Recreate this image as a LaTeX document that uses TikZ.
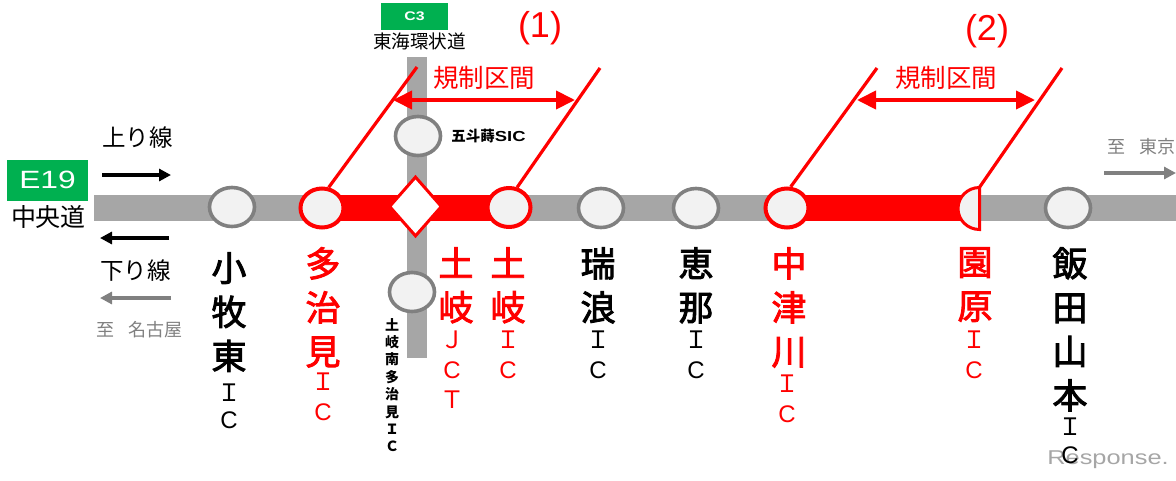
\documentclass[tikz,border=0pt]{standalone}
\usepackage{fontspec}
\setmainfont{Noto Sans CJK JP}
\setsansfont{Liberation Sans}
\newfontfamily\widefont[FakeStretch=1.27]{Liberation Sans}
\newfontfamily\heavyjp[FakeBold=2.5]{Noto Sans CJK JP}
\newfontfamily\latinic{Liberation Sans}
\usetikzlibrary{arrows.meta,shapes.geometric}
\definecolor{rd}{HTML}{FF0000}
\definecolor{rdgray}{HTML}{A6A6A6}
\definecolor{icgray}{HTML}{808080}
\definecolor{icfill}{HTML}{F2F2F2}
\definecolor{grn}{HTML}{00B050}
\newcommand{\cI}{Ｉ}
\newcommand{\cC}{{\latinic C}}
\tikzset{
 road/.style={fill=rdgray,draw=none},
 redroad/.style={fill=rd,draw=none},
 ic/.style={ellipse,draw=icgray,line width=3.6pt,fill=icfill,minimum width=45pt,minimum height=39pt,inner sep=0pt},
 icred/.style={ic,draw=rd,line width=4pt,minimum width=43pt,minimum height=39pt},
 jct/.style={diamond,draw=rd,line width=3pt,fill=white,minimum width=53pt,minimum height=60pt,inner sep=0pt},
 bar/.style={draw=rd,line width=3.2pt},
 span/.style={draw=rd,line width=4pt,{Triangle[length=19pt,width=18pt]}-{Triangle[length=19pt,width=18pt]}},
 big/.style={anchor=north,inner sep=0pt,align=center,font=\heavyjp\fontsize{35}{44}\selectfont},
 small/.style={anchor=north,inner sep=0pt,align=center,font=\fontsize{24}{30}\selectfont},
 tiny/.style={anchor=north,inner sep=0pt,align=center,font=\bfseries\fontsize{14}{17.4}\selectfont},
 txt/.style={inner sep=0pt,font=\fontsize{23.5}{26}\selectfont},
 gtxt/.style={inner sep=0pt,text=icgray,font=\fontsize{18}{20}\selectfont},
 badge/.style={fill=grn,text=white,inner sep=0pt},
 flow/.style={line width=3.6pt,-{Triangle[length=12pt,width=12pt]}},
 gflow/.style={line width=3.6pt,draw=icgray,-{Triangle[length=12pt,width=12pt]}},
 kisei/.style={inner sep=0pt,text=rd,font=\fontsize{25.5}{28}\selectfont},
 paren/.style={inner sep=0pt,text=rd,font=\sffamily\fontsize{36}{38}\selectfont},
}
\begin{document}
\begin{tikzpicture}[x=1pt,y=-1pt]
\useasboundingbox (0,0) rectangle (1176,480);
% roads
\fill[road] (407,57) rectangle (427,358);
\fill[road] (94,195) rectangle (1176,221);
\fill[redroad] (322,195) rectangle (508,221);
\fill[redroad] (787,195) rectangle (965,221);
% restriction bars
\node[icred] (tajimi) at (322,208) {};
\node[icred] (tokiic) at (509,207.5) {};
\node[icred] (nakatsu) at (787,208) {};
\coordinate (b1) at (417,67);
\coordinate (b2) at (600,68);
\coordinate (b3) at (877,68);
\coordinate (b4) at (1062,68);
\coordinate (sono) at (979,188);
\draw[bar] (tajimi.72) -- (b1);
\draw[bar] (tokiic.68) -- (b2);
\draw[bar] (nakatsu.80) -- (b3);
\draw[bar] (sono) -- (b4);
% ICs
\node[ic] (komaki) at (232,207) {};
\node[ic] (mizunami) at (601,208) {};
\node[ic] (ena) at (696,208) {};
\node[ic] (iida) at (1068,208) {};
\node[ic] (goto) at (418,136) {};
\node[ic] (tokiminami) at (412,292) {};
\node[jct] (jct) at (415.5,206.5) {};
% half IC
\draw[rd,line width=3pt,fill=icfill] (979.5,187.5) arc[start angle=-90,end angle=-270,x radius=21.5,y radius=21] -- cycle;
% spans
\coordinate (a1) at (393,100);
\coordinate (a2) at (575,100);
\coordinate (a3) at (857,100);
\coordinate (a4) at (1035,100);
\draw[span] (a1) -- (a2);
\draw[span] (a3) -- (a4);
\node[kisei] (k1) at (484,78) {規制区間};
\node[kisei] (k2) at (946,78) {規制区間};
\node[paren] (n1) at (540,28) {(1)};
\node[paren] (n2) at (987,31) {(2)};
% badges
\node[badge,minimum width=67pt,minimum height=27pt,font=\widefont\bfseries\fontsize{12.5}{14}\selectfont] (c3) at (414.5,16.5) {C3};
\node[inner sep=0pt,font=\fontsize{18.6}{20}\selectfont] (tokai) at (419.5,41) {東海環状道};
\node[badge,minimum width=81pt,minimum height=41pt,font=\widefont\fontsize{25}{27}\selectfont] (e19) at (47.5,180) {E19};
\node[txt,font=\fontsize{25}{27}\selectfont] (chuo) at (48.5,217) {中央道};
% flows
\node[txt] (up) at (137.5,138) {上り線};
\node[txt] (down) at (135.5,271) {下り線};
\coordinate (f1) at (102,175); \coordinate (f2) at (171,175);
\coordinate (f3) at (169,238); \coordinate (f4) at (100,238);
\coordinate (f5) at (171,298); \coordinate (f6) at (100,298);
\coordinate (f7) at (1104,173); \coordinate (f8) at (1176,173);
\draw[flow] (f1) -- (f2);
\draw[flow] (f3) -- (f4);
\draw[gflow] (f5) -- (f6);
\draw[gflow] (f7) -- (f8);
\node[gtxt] (nagoya) at (139.5,330) {至\hspace{0.83em}名古屋};
\node[gtxt] (tokyo) at (1141.5,147) {至\hspace{0.83em}東京};
\node[inner sep=0pt,font=\bfseries\fontsize{14.5}{16}\selectfont] (gotol) at (488.5,136) {五斗蒔{\widefont\bfseries SIC}};
% logo
\node[inner sep=0pt,text=rdgray,font=\widefont\fontsize{20}{22}\selectfont] (resp) at (1108,460) {Response.};
% labels
\node[big] (l1) at (229,252) {小\\牧\\東};
\node[small] (l1b) at (229,384) {\cI\\[-3pt]\cC};
\node[big,text=rd] (l2) at (323,247) {多\\治\\見};
\node[small,text=rd] (l2b) at (323,373) {\cI\\\cC};
\node[tiny] (l3) at (392,318) {土\\岐\\南\\多\\治\\見\\Ｉ\\Ｃ};
\node[big,text=rd] (l4) at (456,247) {土\\岐};
\node[small,text=rd] (l4b) at (452,331) {Ｊ\\\cC\\Ｔ};
\node[big,text=rd] (l5) at (508,247) {土\\岐};
\node[small,text=rd] (l5b) at (508,331) {\cI\\\cC};
\node[big] (l6) at (598,247) {瑞\\浪};
\node[small] (l6b) at (598,331) {\cI\\\cC};
\node[big] (l7) at (696,247) {恵\\那};
\node[small] (l7b) at (696,331) {\cI\\\cC};
\node[big,text=rd] (l8) at (789,247) {中\\津\\川};
\node[small,text=rd] (l8b) at (787,375) {\cI\\\cC};
\node[big,text=rd] (l9) at (975,247) {園\\原};
\node[small,text=rd] (l9b) at (974,331) {\cI\\\cC};
\node[big] (l10) at (1070,247) {飯\\田\\山\\本};
\node[small] (l10b) at (1070,418) {\cI\\[-2pt]\cC};
\end{tikzpicture}
\end{document}
